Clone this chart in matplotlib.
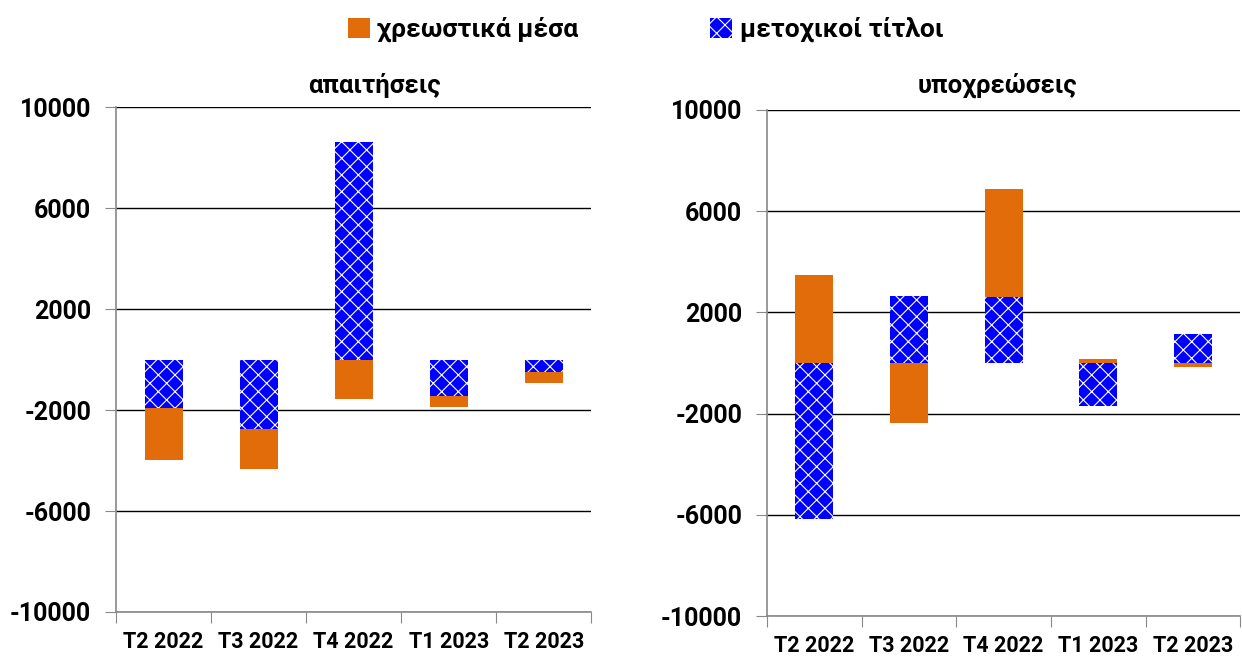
import matplotlib.pyplot as plt
from matplotlib.patches import Patch

plt.rcParams['font.family'] = ['Roboto', 'DejaVu Sans']
plt.rcParams['font.weight'] = 'bold'
plt.rcParams['hatch.linewidth'] = 0.8

# Δεδομένα (εκατ. ευρώ)
quarters = ['T2 2022', 'T3 2022', 'T4 2022', 'T1 2023', 'T2 2023']
assets_debt = [-2050, -1600, -1560, -420, -460]
assets_equity = [-1930, -2750, 8610, -1450, -480]
liab_debt = [3470, -2370, 4280, 160, -150]
liab_equity = [-6160, 2640, 2590, -1700, 1150]

orange = '#E36C0A'
blue = '#0000FF'
yticks = [-10000, -6000, -2000, 2000, 6000, 10000]


def draw(ax, debt, equity):
    x = range(len(quarters))
    # μετοχικοί τίτλοι πρώτοι στη στοίβα, μετά τα χρεωστικά
    ax.bar(x, equity, width=0.4, color=blue, edgecolor='white', linewidth=0,
           hatch='xx', zorder=3)
    bottoms = [e if (e >= 0) == (d >= 0) else 0 for d, e in zip(debt, equity)]
    ax.bar(x, debt, width=0.4, bottom=bottoms, color=orange, linewidth=0, zorder=3)
    ax.set_xlim(-0.5, len(quarters) - 0.5)
    ax.set_ylim(-10000, 10000)
    ax.set_yticks(yticks)
    ax.set_yticklabels([str(v) for v in yticks], fontsize=18)
    ax.grid(axis='y', color='black', linewidth=1, zorder=1)
    ax.set_xticks([i - 0.5 for i in range(len(quarters) + 1)])
    ax.set_xticklabels([])
    ax.set_xticks(list(x), minor=True)
    ax.set_xticklabels(quarters, minor=True, fontsize=15.5)
    ax.tick_params(axis='x', which='major', length=8, color='#888888')
    ax.tick_params(axis='x', which='minor', length=0, pad=14)
    ax.tick_params(axis='y', length=8, color='#888888', pad=10)
    for s in ['top', 'right']:
        ax.spines[s].set_visible(False)
    for s in ['left', 'bottom']:
        ax.spines[s].set_color('#888888')
        ax.spines[s].set_linewidth(1.2)
        ax.spines[s].set_zorder(4)


fig = plt.figure(figsize=(12.42, 6.57), dpi=100)
ax1 = fig.add_axes([0.0934, 0.0685, 0.3826, 0.7685])
ax2 = fig.add_axes([0.6176, 0.0624, 0.3810, 0.7702])
draw(ax1, assets_debt, assets_equity)
draw(ax2, liab_debt, liab_equity)

fig.text(0.3015, 0.870, 'απαιτήσεις', ha='center', va='center', fontsize=18.5)
fig.text(0.8027, 0.870, 'υποχρεώσεις', ha='center', va='center', fontsize=18.5)

handles = [Patch(facecolor=orange, linewidth=0),
           Patch(facecolor=blue, edgecolor='white', linewidth=0, hatch='xx')]
fig.legend(handles, ['χρεωστικά μέσα', 'μετοχικοί τίτλοι'], loc='center',
           bbox_to_anchor=(0.52, 0.955), ncol=2, frameon=False, fontsize=19,
           handlelength=0.8, handleheight=0.8, handletextpad=0.3,
           columnspacing=5.0)

fig.savefig('out.png', dpi=100)
